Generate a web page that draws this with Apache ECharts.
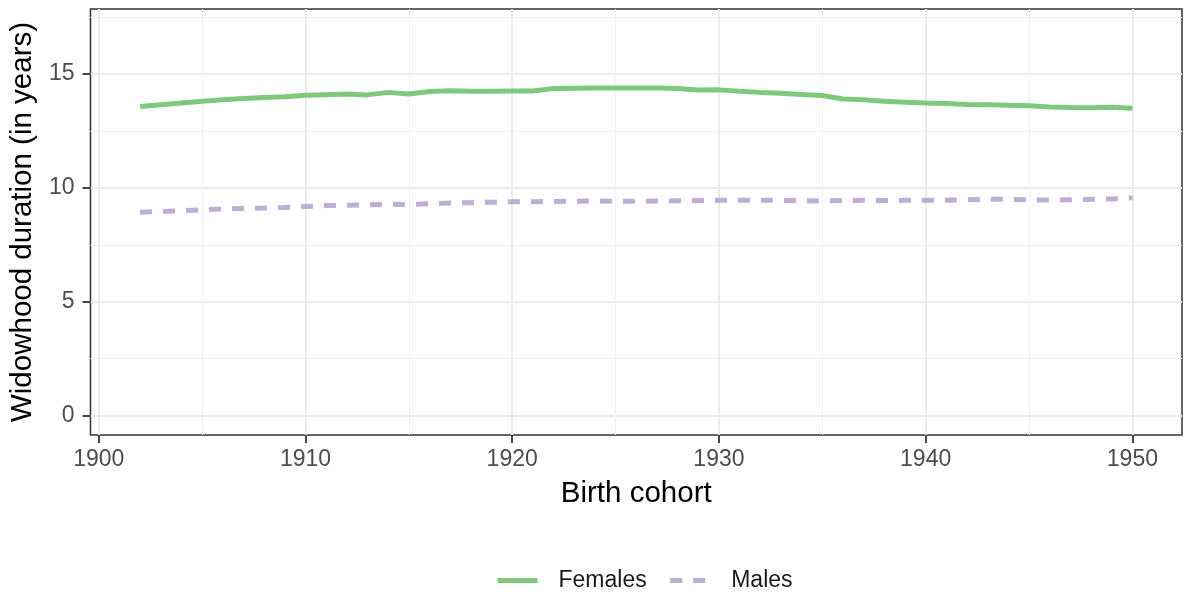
<!DOCTYPE html>
<html>
<head>
<meta charset="utf-8">
<script src="https://cdn.jsdelivr.net/npm/echarts@6/dist/echarts.min.js"></script>
<style>
html,body{margin:0;padding:0;background:#fff;}
#chart{width:1184px;height:596px;}
</style>
</head>
<body>
<div id="chart"></div>
<script>
const years = [];
for (let y = 1902; y <= 1950; y++) years.push(y);

const females = [13.57,13.65,13.72,13.80,13.87,13.92,13.96,14.00,14.06,14.09,
  14.12,14.08,14.19,14.12,14.23,14.26,14.24,14.24,14.25,14.25,
  14.36,14.37,14.38,14.38,14.38,14.38,14.36,14.29,14.30,14.24,
  14.19,14.15,14.10,14.05,13.90,13.87,13.80,13.76,13.72,13.70,
  13.66,13.65,13.62,13.60,13.55,13.53,13.52,13.54,13.49];

const males = [8.93,8.96,9.00,9.04,9.07,9.09,9.11,9.14,9.18,9.22,
  9.23,9.25,9.28,9.27,9.30,9.33,9.35,9.37,9.39,9.39,
  9.40,9.41,9.42,9.41,9.41,9.42,9.43,9.44,9.45,9.45,
  9.45,9.45,9.44,9.42,9.44,9.45,9.44,9.45,9.45,9.45,
  9.48,9.50,9.50,9.47,9.46,9.48,9.50,9.51,9.56];

const xTicks = [1900,1910,1920,1930,1940,1950];
const xMinor = [1905,1915,1925,1935,1945];
const yTicks = [0,5,10,15];
const yMinor = [2.5,7.5,12.5,17.5];

const FONT = 'Liberation Sans, Arial, sans-serif';
const chart = echarts.init(document.getElementById('chart'), null, {renderer:'canvas'});

const xMin = 1899.6, xMax = 1952.4, yMin = -0.85, yMax = 17.85;

chart.setOption({
  animation: false,
  backgroundColor: '#ffffff',
  grid: {left: 89, right: 2, top: 9, bottom: 161, show: true, borderColor: '#333333', borderWidth: 1.5, backgroundColor: 'transparent'},
  legend: {
    bottom: 4, left: 495, padding: 0,
    itemWidth: 40, itemHeight: 14, itemGap: 21,
    itemStyle: {opacity: 0},
    lineStyle: {width: 5},
    textStyle: {fontFamily: FONT, fontSize: 23, color: '#1a1a1a', padding: [0,0,0,16]},
    data: ['Females','Males']
  },
  xAxis: [{
    type: 'value', min: xMin, max: xMax,
    name: 'Birth cohort', nameLocation: 'middle', nameGap: 44,
    nameTextStyle: {fontFamily: FONT, fontSize: 29.5, color: '#000'},
    axisLine: {show: false, onZero: false},
    axisTick: {show: true, length: 8, lineStyle: {color: '#333333', width: 1.8}, customValues: xTicks},
    axisLabel: {fontFamily: FONT, fontSize: 23, color: '#4d4d4d', margin: 13, customValues: xTicks, formatter: v => String(v)},
    splitLine: {show: true, lineStyle: {color: '#ebebeb', width: 2}}
  },{
    type: 'value', min: xMin, max: xMax, position: 'bottom',
    axisLine: {show: false, onZero: false}, axisLabel: {show: false},
    axisTick: {show: false, customValues: xMinor},
    splitLine: {show: true, lineStyle: {color: '#f2f2f2', width: 1}}
  }],
  yAxis: [{
    type: 'value', min: yMin, max: yMax,
    name: 'Widowhood duration (in years)', nameLocation: 'middle', nameGap: 48,
    nameTextStyle: {fontFamily: FONT, fontSize: 29.5, color: '#000'},
    axisLine: {show: false, onZero: false},
    axisTick: {show: true, length: 8, lineStyle: {color: '#333333', width: 1.8}, customValues: yTicks},
    axisLabel: {fontFamily: FONT, fontSize: 23, color: '#4d4d4d', margin: 16, customValues: yTicks},
    splitLine: {show: true, lineStyle: {color: '#ebebeb', width: 2}}
  },{
    type: 'value', min: yMin, max: yMax, position: 'left',
    axisLine: {show: false, onZero: false}, axisLabel: {show: false},
    axisTick: {show: false, customValues: yMinor},
    splitLine: {show: true, lineStyle: {color: '#f2f2f2', width: 1}}
  }],
  series: [{
    name: 'Females', type: 'line', symbol: 'none',
    data: years.map((y,i) => [y, females[i]]),
    lineStyle: {color: '#7fc97f', width: 5, cap: 'butt'},
    itemStyle: {color: '#7fc97f'}
  },{
    name: 'Males', type: 'line', symbol: 'none',
    data: years.map((y,i) => [y, males[i]]),
    lineStyle: {color: '#beaed4', width: 5, type: [12, 11], cap: 'butt'},
    itemStyle: {color: '#beaed4'}
  }]
});
</script>
</body>
</html>
